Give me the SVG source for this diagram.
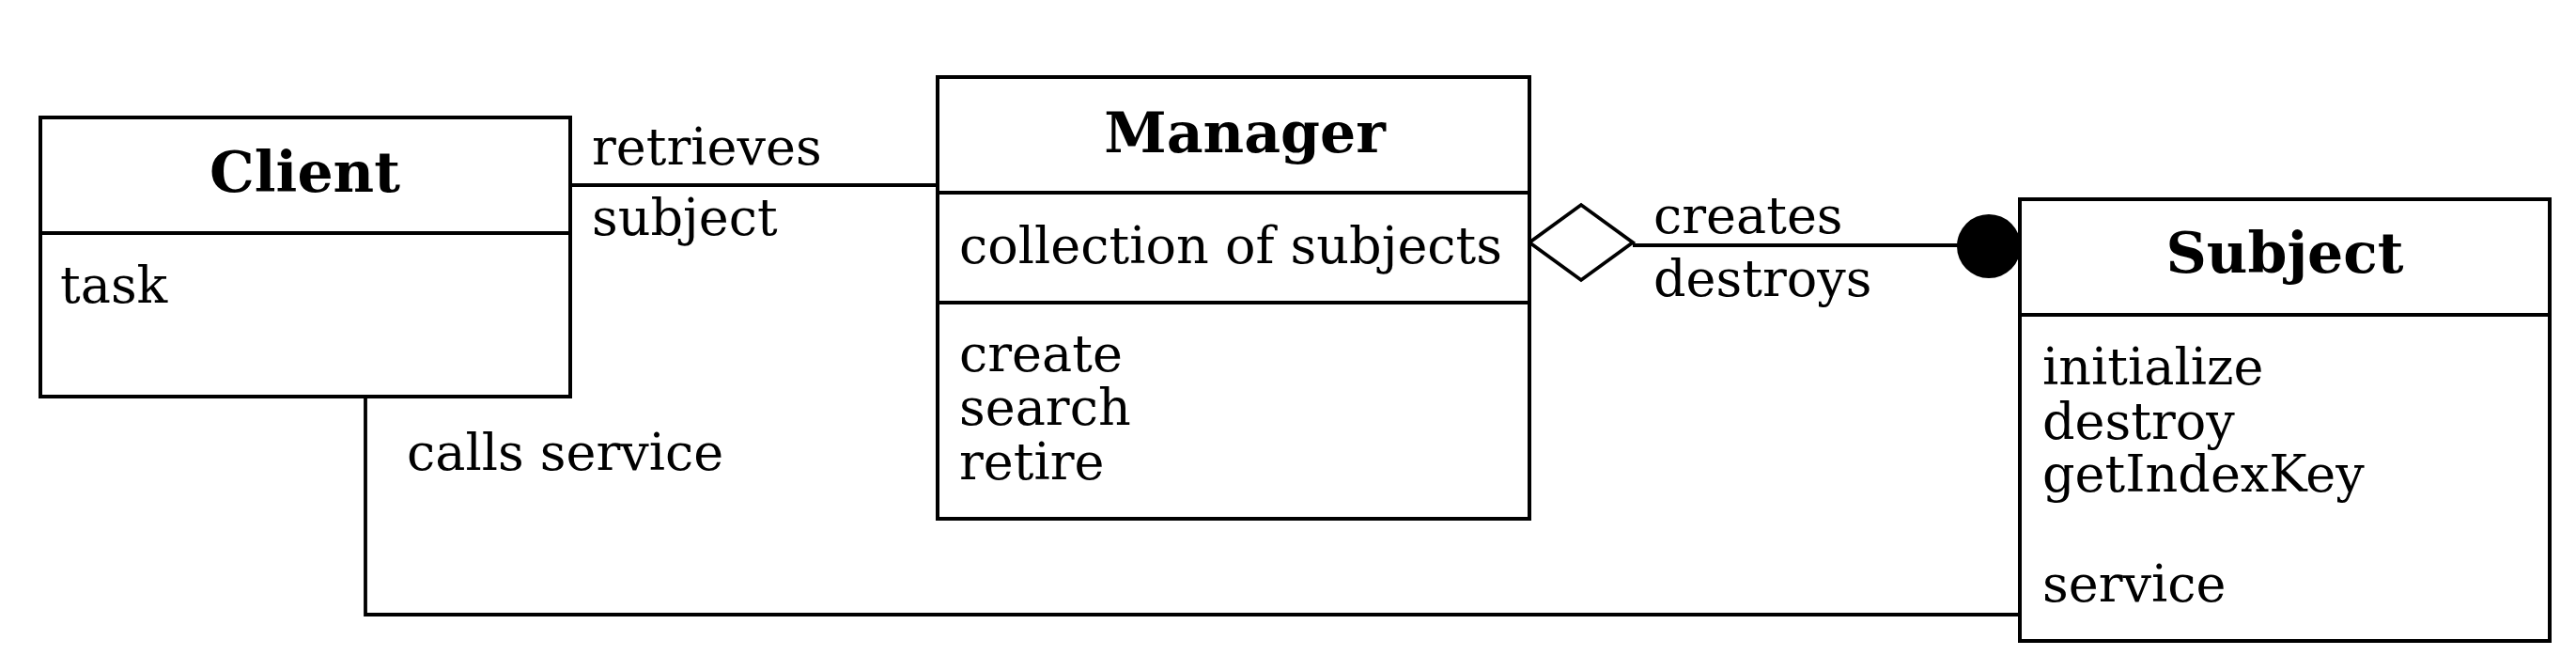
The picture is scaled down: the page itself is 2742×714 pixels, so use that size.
<svg xmlns="http://www.w3.org/2000/svg" width="2742" height="714" viewBox="0 0 2742 714">
<style>
.box{fill:#fff;stroke:#000;stroke-width:4}
.div{stroke:#000;stroke-width:4}
.con{fill:none;stroke:#000;stroke-width:3.8}
text{font-family:"DejaVu Serif",serif;font-size:54px;fill:#000}
.title{font-weight:bold;font-size:60px;text-anchor:middle}
</style>
<rect width="2742" height="714" fill="#fff"/>
<g id="connectors">
<line class="con" x1="607" y1="197" x2="998" y2="197"/>
<line class="con" x1="1738" y1="261" x2="2117" y2="261"/>
<polyline class="con" points="389,413 389,654 2150,654"/>
<polygon points="1628,258 1683,218 1738,258 1683,298" fill="#fff" stroke="#000" stroke-width="3.8"/>
<circle cx="2117" cy="262" r="34" fill="#000"/>
<text x="630" y="175">retrieves</text>
<text x="630" y="250">subject</text>
<text x="1760" y="248">creates</text>
<text x="1760" y="315">destroys</text>
<text x="433" y="500">calls service</text>
</g>
<g id="client">
<rect class="box" x="43" y="125" width="564" height="297"/>
<line class="div" x1="43" y1="248" x2="607" y2="248"/>
<text class="title" x="324.5" y="204">Client</text>
<text x="64" y="322">task</text>
</g>
<g id="manager">
<rect class="box" x="998" y="82" width="630" height="470"/>
<line class="div" x1="998" y1="205" x2="1628" y2="205"/>
<line class="div" x1="998" y1="322" x2="1628" y2="322"/>
<text class="title" x="1325" y="162">Manager</text>
<text x="1021" y="280">collection of subjects</text>
<text x="1021" y="395">create</text>
<text x="1021" y="452">search</text>
<text x="1021" y="510">retire</text>
</g>
<g id="subject">
<rect class="box" x="2150" y="212" width="564" height="470"/>
<line class="div" x1="2150" y1="335" x2="2714" y2="335"/>
<text class="title" x="2432" y="290">Subject</text>
<text x="2174" y="409">initialize</text>
<text x="2174" y="467">destroy</text>
<text x="2174" y="523">getIndexKey</text>
<text x="2174" y="640">service</text>
</g>
</svg>
